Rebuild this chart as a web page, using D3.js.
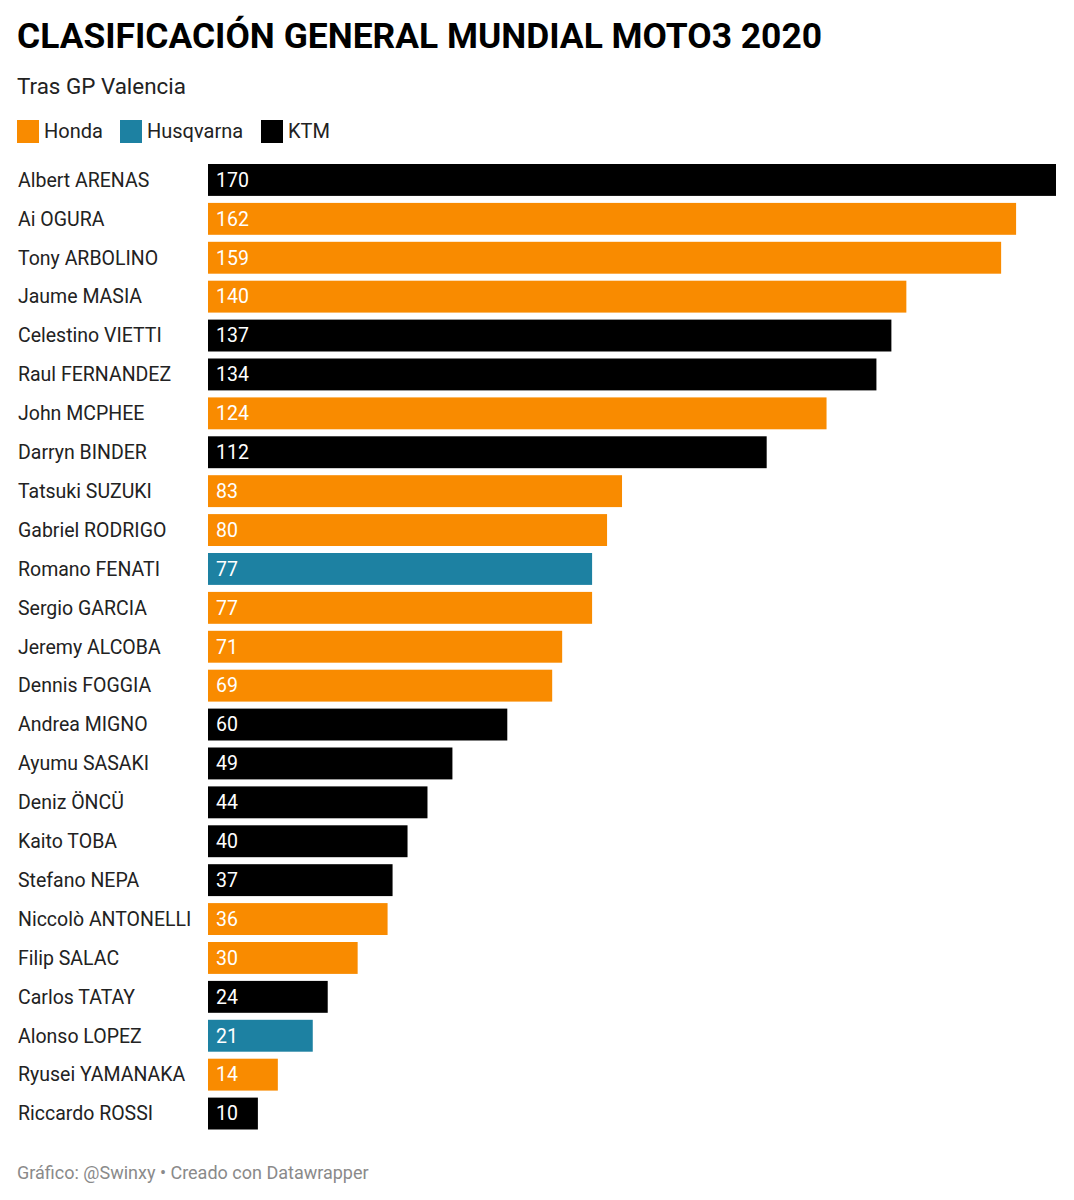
<!DOCTYPE html>
<html><head><meta charset="utf-8">
<script src="https://cdn.jsdelivr.net/npm/d3@7"></script>
<style>body{margin:0;background:#fff;font-family:Roboto,sans-serif;}</style>
</head><body><div id="chart"></div>
<script>
const riders = ["Albert ARENAS","Ai OGURA","Tony ARBOLINO","Jaume MASIA","Celestino VIETTI","Raul FERNANDEZ","John MCPHEE","Darryn BINDER","Tatsuki SUZUKI","Gabriel RODRIGO","Romano FENATI","Sergio GARCIA","Jeremy ALCOBA","Dennis FOGGIA","Andrea MIGNO","Ayumu SASAKI","Deniz ÖNCÜ","Kaito TOBA","Stefano NEPA","Niccolò ANTONELLI","Filip SALAC","Carlos TATAY","Alonso LOPEZ","Ryusei YAMANAKA","Riccardo ROSSI"];
const points = [170,162,159,140,137,134,124,112,83,80,77,77,71,69,60,49,44,40,37,36,30,24,21,14,10];
const makers = ["KTM","Honda","Honda","Honda","KTM","KTM","Honda","KTM","Honda","Honda","Husqvarna","Honda","Honda","Honda","KTM","KTM","KTM","KTM","KTM","Honda","Honda","KTM","Husqvarna","Honda","KTM"];
const brandNames = ["Honda","Husqvarna","KTM"];
const brandColors = ["#f98b00","#1d81a2","#000000"];

const W = 1074, H = 1200;
const svg = d3.select("#chart").append("svg").attr("width", W).attr("height", H);
const color = d3.scaleOrdinal().domain(brandNames).range(brandColors);

svg.append("text").attr("x",17).attr("y",48).attr("font-size",35.4).attr("font-weight",700)
  .attr("fill","#000").text("CLASIFICACIÓN GENERAL MUNDIAL MOTO3 2020");
svg.append("text").attr("x",17).attr("y",94).attr("font-size",22.4).attr("fill","#222").text("Tras GP Valencia");

// legend
const legX = [17,120,261];
const leg = svg.selectAll("g.leg").data(brandNames).join("g").attr("class","leg")
  .attr("transform",(d,i)=>`translate(${legX[i]},120)`);
leg.append("rect").attr("width",22).attr("height",23).attr("fill",d=>color(d));
leg.append("text").attr("x",27).attr("y",18).attr("font-size",20).attr("fill","#222").text(d=>d);

const x = d3.scaleLinear().domain([0,170]).range([208,1056]);
const y = d3.scaleBand().domain(riders).range([160.5,1133]).paddingInner(0.18).paddingOuter(0.09);

const row = svg.selectAll("g.row").data(riders).join("g").attr("class","row");
row.append("text").attr("x",18).attr("y",d=>y(d)+y.bandwidth()/2).attr("dy","0.35em")
  .attr("font-size",19.5).attr("fill","#222").text(d=>d);
row.append("rect").attr("x",x(0)).attr("y",d=>y(d)).attr("height",y.bandwidth())
  .attr("width",(d,i)=>x(points[i])-x(0)).attr("fill",(d,i)=>color(makers[i]));
row.append("text").attr("x",x(0)+8).attr("y",d=>y(d)+y.bandwidth()/2).attr("dy","0.35em")
  .attr("font-size",19.5).attr("fill","#fff").text((d,i)=>points[i]);

svg.append("text").attr("x",17).attr("y",1179).attr("font-size",18).attr("fill","#8a8a8a")
  .text("Gráfico: @Swinxy • Creado con Datawrapper");
</script></body></html>
